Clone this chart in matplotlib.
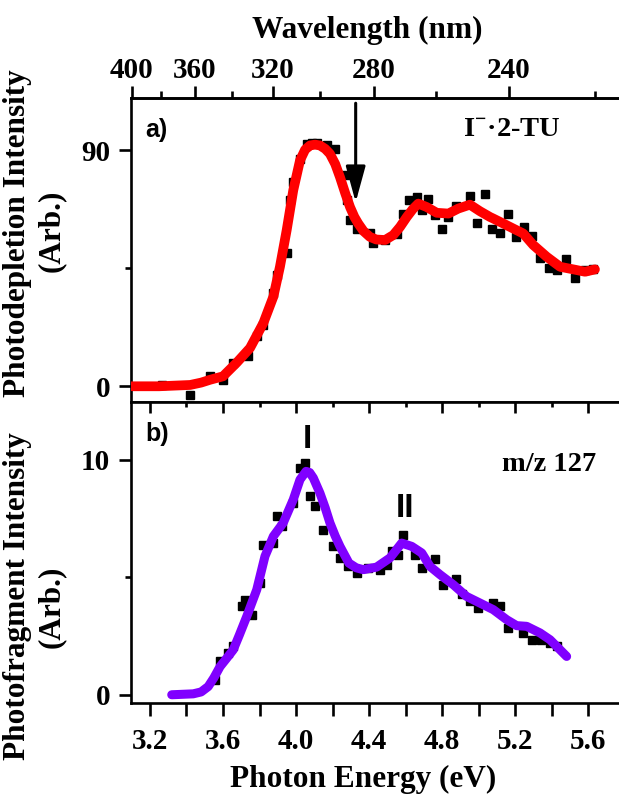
import numpy as np
import matplotlib
matplotlib.use("Agg")
import matplotlib.pyplot as plt
from matplotlib.ticker import FixedLocator, NullLocator

plt.rcParams['font.family'] = ['Liberation Serif', 'DejaVu Serif']
plt.rcParams['font.weight'] = 'bold'
plt.rcParams['mathtext.fontset'] = 'custom'
plt.rcParams['mathtext.rm'] = 'Liberation Serif:bold'
plt.rcParams['mathtext.bf'] = 'Liberation Serif:bold'

# ---------------- data ----------------
# Panel a: photodepletion (points)
a_E = [3.264, 3.42, 3.53, 3.60, 3.656, 3.739, 3.785, 3.821, 3.876, 3.894, 3.949,
       3.967, 3.985, 4.022, 4.059, 4.086, 4.113, 4.168, 4.214, 4.268, 4.278, 4.296,
       4.333, 4.405, 4.424, 4.488, 4.552, 4.588, 4.620, 4.661, 4.689, 4.725, 4.762,
       4.800, 4.834, 4.878, 4.953, 4.992, 5.036, 5.075, 5.118, 5.163, 5.205, 5.247,
       5.291, 5.337, 5.385, 5.432, 5.479, 5.529, 5.584, 5.629]
a_I = [0.6, -3.2, 3.8, 2.5, 8.9, 11.4, 19.0, 23.5, 35.5, 42.5, 50.7,
       71.0, 78.0, 86.8, 92.5, 92.8, 92.8, 91.9, 90.6, 80.5, 71.0, 63.4,
       60.2, 58.3, 54.5, 55.8, 58.0, 65.6, 71.0, 72.1, 67.2, 71.4, 65.3,
       60.2, 64.6, 68.9, 72.7, 62.2, 73.4, 60.2, 58.3, 65.9, 57.0, 60.8,
       57.3, 48.8, 45.0, 44.4, 48.4, 41.2, 44.4, 44.6]
# Panel a: smoothed curve
a_fit_E = [3.10, 3.25, 3.42, 3.48, 3.53, 3.60, 3.675, 3.748, 3.821, 3.876, 3.912,
           3.949, 3.985, 4.022, 4.050, 4.077, 4.104, 4.131, 4.160, 4.186, 4.215,
           4.241, 4.270, 4.296, 4.320, 4.341, 4.370, 4.405, 4.440, 4.488, 4.533,
           4.570, 4.607, 4.640, 4.670, 4.716, 4.771, 4.835, 4.889, 4.953, 5.008,
           5.063, 5.081, 5.136, 5.190, 5.245, 5.300, 5.374, 5.447, 5.520, 5.584, 5.638]
a_fit_I = [0.0, 0.0, 0.5, 1.4, 2.5, 3.8, 9.0, 14.6, 24.1, 34.2, 45.6,
           59.6, 74.8, 86.2, 90.3, 91.9, 92.2, 91.9, 90.6, 88.7, 84.8,
           79.8, 73.6, 68.4, 64.6, 62.1, 59.2, 57.0, 56.0, 55.8, 57.7,
           60.8, 64.6, 67.6, 69.7, 68.4, 66.2, 65.9, 67.8, 69.3, 66.8,
           64.6, 64.0, 62.1, 60.2, 58.3, 53.9, 49.4, 45.6, 44.6, 43.7, 44.6]

# Panel b: photofragment m/z 127 (points)
b_E = [3.556, 3.584, 3.629, 3.656, 3.702, 3.720, 3.757, 3.803, 3.821, 3.876, 3.894,
       3.922, 3.985, 4.022, 4.049, 4.077, 4.104, 4.150, 4.204, 4.241, 4.287, 4.333,
       4.396, 4.460, 4.497, 4.524, 4.561, 4.588, 4.652, 4.689, 4.762, 4.804, 4.877,
       4.912, 4.953, 4.995, 5.080, 5.118, 5.163, 5.245, 5.291, 5.340, 5.390, 5.430]
b_I = [0.64, 1.45, 1.77, 2.06, 3.76, 4.04, 3.40, 4.75, 6.38, 6.45, 7.59,
       7.16, 8.16, 9.65, 9.86, 8.44, 8.01, 7.02, 6.31, 5.82, 5.46, 5.18,
       5.39, 5.32, 5.53, 6.10, 5.96, 6.80, 5.96, 5.39, 5.77, 4.66, 4.94,
       4.30, 4.00, 3.67, 3.90, 3.76, 2.84, 2.62, 2.35, 2.35, 2.20, 2.06]
# Panel b: smoothed curve
b_fit_E = [3.319, 3.437, 3.480, 3.519, 3.550, 3.584, 3.620, 3.656, 3.690, 3.730,
           3.785, 3.830, 3.876, 3.930, 3.985, 4.022, 4.055, 4.075, 4.095, 4.131,
           4.160, 4.186, 4.215, 4.241, 4.290, 4.330, 4.369, 4.442, 4.515, 4.579,
           4.634, 4.689, 4.734, 4.789, 4.862, 4.935, 5.008, 5.081, 5.155, 5.209,
           5.264, 5.337, 5.392, 5.437, 5.483]
b_fit_I = [0.0, 0.04, 0.12, 0.35, 0.72, 1.20, 1.55, 1.91, 2.55, 3.33,
           4.47, 5.89, 6.74, 7.31, 8.30, 9.15, 9.50, 9.45, 9.22, 8.58,
           7.95, 7.31, 6.75, 6.31, 5.60, 5.40, 5.32, 5.43, 5.82, 6.45,
           6.31, 6.03, 5.46, 5.11, 4.68, 4.18, 3.90, 3.62, 3.19, 2.94,
           2.91, 2.63, 2.34, 1.99, 1.63]

x_major = [3.2, 3.6, 4.0, 4.4, 4.8, 5.2, 5.6]
x_minor = [3.4, 3.8, 4.2, 4.6, 5.0, 5.4]
wl_major = [400, 360, 320, 280, 240]
wl_minor = [380, 340, 300, 260, 220]
a_yticks = [0, 90]
a_yminor = [45]
b_yticks = [0, 10]
b_yminor = [5]

HC = 1239.84

# ---------------- figure ----------------
fig = plt.figure(figsize=(6.19, 7.97), dpi=100)
W, H = 619.0, 797.0
XMIN, XMAX = 3.095, 5.8
px_per_eV = 182.5
left_px = 150 - (3.2 - XMIN) * px_per_eV
right_px = 150 + (XMAX - 3.2) * px_per_eV
left = left_px / W
width = (right_px - left_px) / W
ax1 = fig.add_axes([left, (H - 402) / H, width, 304 / H])
ax2 = fig.add_axes([left, (H - 703) / H, width, 301 / H])

red = '#ff0000'
purple = '#8000ff'
tick_fs = 21
lab_fs = 22.5
lw_sp = 1.9

for ax in (ax1, ax2):
    for s in ax.spines.values():
        s.set_linewidth(lw_sp)
    ax.set_xlim(XMIN, XMAX)

# panel a
ax1.plot(a_E, a_I, 's', color='black', markersize=5.2, zorder=2)
ax1.plot(a_fit_E, a_fit_I, '-', color=red, lw=7, solid_capstyle='round',
         solid_joinstyle='round', zorder=3)
ax1.set_ylim(-6, 110)
ax1.yaxis.set_major_locator(FixedLocator(a_yticks))
ax1.yaxis.set_minor_locator(FixedLocator(a_yminor))
ax1.tick_params(axis='y', which='major', direction='out', length=9, width=lw_sp,
                labelsize=tick_fs, pad=6)
ax1.tick_params(axis='y', which='minor', direction='out', length=4, width=lw_sp)
ax1.tick_params(axis='x', which='both', bottom=False, labelbottom=False, top=False)
ax1.xaxis.set_major_locator(NullLocator())

sec = ax1.secondary_xaxis('top', functions=(lambda e: HC / np.asarray(e, float),
                                            lambda l: HC / np.asarray(l, float)))
sec.set_ticks(wl_major)
sec.set_xticks(wl_minor, minor=True)
sec.set_xticklabels([str(v) for v in wl_major])
sec.tick_params(which='major', direction='out', length=9, width=lw_sp,
                labelsize=tick_fs, pad=1)
sec.tick_params(which='minor', direction='out', length=5, width=lw_sp)
sec.spines['top'].set_linewidth(lw_sp)
for lbl in sec.get_xticklabels():
    lbl.set_fontweight('bold')

ax1.annotate('', xy=(4.327, 70.2), xytext=(4.327, 108.0),
             arrowprops=dict(arrowstyle='-|>,head_width=0.6,head_length=2.2',
                             color='black', lw=2.2, shrinkA=0, shrinkB=0))
ax1.text(0.03, 0.935, 'a)', transform=ax1.transAxes, fontsize=18,
         family=['Liberation Sans'], fontweight='bold', va='top', ha='left')
ax1.text(463 - left_px, 0, r'I$^{-}$·2-TU', fontsize=20.5, fontweight='bold',
         va='top', ha='left',
         transform=matplotlib.transforms.offset_copy(ax1.transAxes, fig=fig, x=0, y=0, units='dots') if False else ax1.transAxes)
ax1.texts[-1].set_position(((463 - left_px) / (right_px - left_px), 0.935))

# panel b
ax2.plot(b_E, b_I, 's', color='black', markersize=5.2, zorder=2)
ax2.plot(b_fit_E, b_fit_I, '-', color=purple, lw=6.5, solid_capstyle='round',
         solid_joinstyle='round', zorder=3)
ax2.set_ylim(-0.35, 12.45)
ax2.yaxis.set_major_locator(FixedLocator(b_yticks))
ax2.yaxis.set_minor_locator(FixedLocator(b_yminor))
ax2.xaxis.set_major_locator(FixedLocator(x_major))
ax2.xaxis.set_minor_locator(FixedLocator(x_minor))
ax2.set_xticklabels(['%.1f' % v for v in x_major])
ax2.tick_params(axis='y', which='major', direction='out', length=9, width=lw_sp,
                labelsize=tick_fs, pad=6)
ax2.tick_params(axis='y', which='minor', direction='out', length=4, width=lw_sp)
ax2.tick_params(axis='x', which='major', direction='out', length=9, width=lw_sp,
                labelsize=tick_fs, pad=9, top=False)
ax2.tick_params(axis='x', which='minor', direction='out', length=9, width=lw_sp, top=False)

# inward ticks on top of panel b
for xv in x_major:
    ax2.plot([xv, xv], [1.0, 0.965], transform=ax2.get_xaxis_transform(),
             color='black', lw=lw_sp, solid_capstyle='butt', clip_on=False, zorder=4)
for xv in x_minor:
    ax2.plot([xv, xv], [1.0, 0.985], transform=ax2.get_xaxis_transform(),
             color='black', lw=lw_sp, solid_capstyle='butt', clip_on=False, zorder=4)

ax2.text(0.03, 0.935, 'b)', transform=ax2.transAxes, fontsize=18,
         family=['Liberation Sans'], fontweight='bold', va='top', ha='left')
ax2.text((502 - left_px) / (right_px - left_px), 0.835, 'm/z 127',
         transform=ax2.transAxes, fontsize=20.5, fontweight='bold', va='top', ha='left')
ax2.text(4.06, 10.2, 'I', fontsize=24, family=['Liberation Sans'],
         fontweight='bold', ha='center', va='bottom')
ax2.text(4.595, 7.25, 'II', fontsize=24, family=['Liberation Sans'],
         fontweight='bold', ha='center', va='bottom')

fig.text(367 / W, 1 - 30 / H, 'Wavelength (nm)', fontsize=lab_fs,
         fontweight='bold', ha='center', va='center')
fig.text(363 / W, 1 - 779 / H, 'Photon Energy (eV)', fontsize=lab_fs,
         fontweight='bold', ha='center', va='center')

fig.text(18 / W, 1 - 233 / H, 'Photodepletion Intensity', rotation=90,
         fontsize=lab_fs, fontweight='bold', ha='center', va='center')
fig.text(51 / W, 1 - 231 / H, '(Arb.)', rotation=90,
         fontsize=lab_fs, fontweight='bold', ha='center', va='center')
fig.text(18 / W, 1 - 596 / H, 'Photofragment Intensity', rotation=90,
         fontsize=lab_fs, fontweight='bold', ha='center', va='center')
fig.text(51 / W, 1 - 607 / H, '(Arb.)', rotation=90,
         fontsize=lab_fs, fontweight='bold', ha='center', va='center')

for ax in (ax1, ax2):
    for lbl in ax.get_xticklabels() + ax.get_yticklabels():
        lbl.set_fontweight('bold')

fig.savefig('out.png', dpi=100)
